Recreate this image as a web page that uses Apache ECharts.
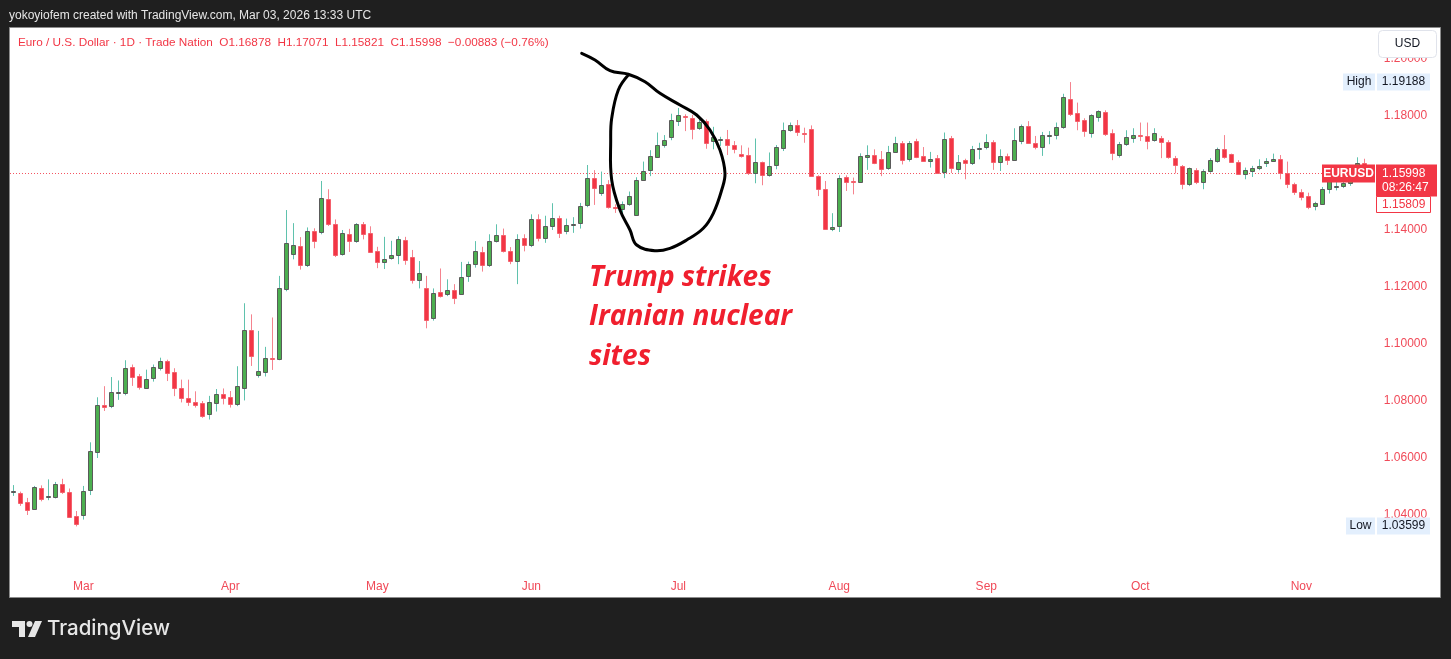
<!DOCTYPE html>
<html>
<head>
<meta charset="utf-8">
<script src="https://cdn.jsdelivr.net/npm/echarts@6/dist/echarts.min.js"></script>
<style>
html,body{margin:0;padding:0;background:#1f1f1f;}
#c{width:1451px;height:659px;}
</style>
</head>
<body>
<div id="c"></div>
<script>
// Daily EUR/USD candles, Feb 17 – Nov 14, 2025
const dates = [
 '2025-02-17','2025-02-18','2025-02-19','2025-02-20','2025-02-21','2025-02-24','2025-02-25','2025-02-26','2025-02-27','2025-02-28',
 '2025-03-03','2025-03-04','2025-03-05','2025-03-06','2025-03-07','2025-03-10','2025-03-11','2025-03-12','2025-03-13','2025-03-14','2025-03-17','2025-03-18','2025-03-19','2025-03-20','2025-03-21','2025-03-24','2025-03-25','2025-03-26','2025-03-27','2025-03-28','2025-03-31',
 '2025-04-01','2025-04-02','2025-04-03','2025-04-04','2025-04-07','2025-04-08','2025-04-09','2025-04-10','2025-04-11','2025-04-14','2025-04-15','2025-04-16','2025-04-17','2025-04-21','2025-04-22','2025-04-23','2025-04-24','2025-04-25','2025-04-28','2025-04-29','2025-04-30',
 '2025-05-01','2025-05-02','2025-05-05','2025-05-06','2025-05-07','2025-05-08','2025-05-09','2025-05-12','2025-05-13','2025-05-14','2025-05-15','2025-05-16','2025-05-19','2025-05-20','2025-05-21','2025-05-22','2025-05-23','2025-05-26','2025-05-27','2025-05-28','2025-05-29','2025-05-30',
 '2025-06-02','2025-06-03','2025-06-04','2025-06-05','2025-06-06','2025-06-09','2025-06-10','2025-06-11','2025-06-12','2025-06-13','2025-06-16','2025-06-17','2025-06-18','2025-06-19','2025-06-20','2025-06-23','2025-06-24','2025-06-25','2025-06-26','2025-06-27','2025-06-30',
 '2025-07-01','2025-07-02','2025-07-03','2025-07-04','2025-07-07','2025-07-08','2025-07-09','2025-07-10','2025-07-11','2025-07-14','2025-07-15','2025-07-16','2025-07-17','2025-07-18','2025-07-21','2025-07-22','2025-07-23','2025-07-24','2025-07-25','2025-07-28','2025-07-29','2025-07-30','2025-07-31',
 '2025-08-01','2025-08-04','2025-08-05','2025-08-06','2025-08-07','2025-08-08','2025-08-11','2025-08-12','2025-08-13','2025-08-14','2025-08-15','2025-08-18','2025-08-19','2025-08-20','2025-08-21','2025-08-22','2025-08-25','2025-08-26','2025-08-27','2025-08-28','2025-08-29',
 '2025-09-01','2025-09-02','2025-09-03','2025-09-04','2025-09-05','2025-09-08','2025-09-09','2025-09-10','2025-09-11','2025-09-12','2025-09-15','2025-09-16','2025-09-17','2025-09-18','2025-09-19','2025-09-22','2025-09-23','2025-09-24','2025-09-25','2025-09-26','2025-09-29','2025-09-30',
 '2025-10-01','2025-10-02','2025-10-03','2025-10-06','2025-10-07','2025-10-08','2025-10-09','2025-10-10','2025-10-13','2025-10-14','2025-10-15','2025-10-16','2025-10-17','2025-10-20','2025-10-21','2025-10-22','2025-10-23','2025-10-24','2025-10-27','2025-10-28','2025-10-29','2025-10-30','2025-10-31',
 '2025-11-03','2025-11-04','2025-11-05','2025-11-06','2025-11-07','2025-11-10','2025-11-11','2025-11-12','2025-11-13','2025-11-14'
];
const opens = [
 1.0482,1.0477,1.0444,1.0420,1.0494,1.0465,1.0463,1.0510,1.0481,1.0397,
 1.0401,1.0486,1.0620,1.0787,1.0782,1.0830,1.0828,1.0918,1.0888,1.0847,1.0880,1.0917,1.0940,1.0901,1.0847,1.0812,1.0798,1.0792,1.0753,1.0794,1.0824,
 1.0814,1.0789,1.0844,1.1048,1.0891,1.0903,1.0952,1.0947,1.1192,1.1315,1.1344,1.1278,1.1395,1.1392,1.1509,1.1420,1.1317,1.1385,1.1362,1.1420,1.1388,
 1.1327,1.1289,1.1301,1.1312,1.1364,1.1305,1.1224,1.1195,1.1090,1.1184,1.1177,1.1189,1.1177,1.1237,1.1280,1.1324,1.1277,1.1363,1.1381,1.1326,1.1291,1.1371,
 1.1347,1.1437,1.1371,1.1414,1.1441,1.1396,1.1420,1.1426,1.1486,1.1582,1.1529,1.1563,1.1482,1.1475,1.1491,1.1453,1.1576,1.1610,1.1656,1.1697,1.1726,
 1.1782,1.1800,1.1794,1.1759,1.1782,1.1711,1.1717,1.1718,1.1697,1.1668,1.1663,1.1599,1.1637,1.1592,1.1628,1.1686,1.1751,1.1768,1.1740,1.1753,1.1589,1.1543,1.1403,
 1.1414,1.1587,1.1571,1.1570,1.1656,1.1663,1.1648,1.1616,1.1675,1.1705,1.1648,1.1712,1.1660,1.1642,1.1652,1.1603,1.1722,1.1614,1.1645,1.1636,1.1684,
 1.1691,1.1710,1.1638,1.1658,1.1646,1.1712,1.1765,1.1706,1.1691,1.1733,1.1733,1.1762,1.1861,1.1810,1.1786,1.1742,1.1798,1.1815,1.1740,1.1663,1.1702,1.1722,
 1.1733,1.1731,1.1715,1.1724,1.1710,1.1652,1.1625,1.1561,1.1610,1.1570,1.1607,1.1642,1.1684,1.1666,1.1640,1.1598,1.1607,1.1616,1.1634,1.1642,1.1648,1.1601,1.1563,
 1.1532,1.1520,1.1484,1.1491,1.1543,1.1554,1.1554,1.1566,1.1590,1.1635
];
const closes = [
 1.0484,1.0442,1.0418,1.0498,1.0456,1.0467,1.0508,1.0480,1.0393,1.0370,
 1.0483,1.0624,1.0786,1.0780,1.0831,1.0832,1.0915,1.0884,1.0850,1.0876,1.0921,1.0940,1.0897,1.0847,1.0810,1.0797,1.0787,1.0746,1.0797,1.0826,1.0811,
 1.0789,1.0851,1.1048,1.0957,1.0905,1.0952,1.0948,1.1195,1.1356,1.1348,1.1278,1.1395,1.1363,1.1511,1.1420,1.1312,1.1388,1.1362,1.1420,1.1385,1.1324,
 1.1289,1.1298,1.1311,1.1367,1.1293,1.1224,1.1249,1.1083,1.1180,1.1169,1.1189,1.1161,1.1235,1.1280,1.1326,1.1276,1.1361,1.1382,1.1326,1.1291,1.1367,1.1346,
 1.1440,1.1371,1.1414,1.1441,1.1390,1.1418,1.1422,1.1484,1.1582,1.1549,1.1557,1.1479,1.1480,1.1491,1.1520,1.1576,1.1607,1.1660,1.1698,1.1716,1.1785,
 1.1804,1.1795,1.1753,1.1778,1.1706,1.1728,1.1719,1.1697,1.1685,1.1660,1.1599,1.1640,1.1593,1.1625,1.1691,1.1751,1.1768,1.1744,1.1739,1.1589,1.1545,1.1403,1.1412,
 1.1584,1.1568,1.1570,1.1658,1.1663,1.1634,1.1613,1.1672,1.1704,1.1645,1.1705,1.1656,1.1642,1.1650,1.1601,1.1718,1.1616,1.1638,1.1636,1.1684,1.1686,
 1.1710,1.1638,1.1660,1.1646,1.1715,1.1765,1.1706,1.1691,1.1733,1.1734,1.1762,1.1867,1.1808,1.1783,1.1748,1.1804,1.1816,1.1736,1.1669,1.1701,1.1728,1.1733,
 1.1729,1.1712,1.1741,1.1710,1.1656,1.1628,1.1563,1.1617,1.1567,1.1607,1.1645,1.1684,1.1655,1.1640,1.1598,1.1610,1.1617,1.1625,1.1642,1.1648,1.1601,1.1563,1.1535,
 1.1516,1.1479,1.1493,1.1545,1.1572,1.1555,1.1566,1.1590,1.1635,1.1622
];
const lows = [
 1.0467,1.0432,1.0400,1.0418,1.0448,1.0452,1.0458,1.0474,1.0390,1.0360,
 1.0384,1.0470,1.0600,1.0765,1.0775,1.0804,1.0820,1.0853,1.0840,1.0845,1.0868,1.0907,1.0870,1.0817,1.0795,1.0783,1.0777,1.0741,1.0735,1.0763,1.0788,
 1.0777,1.0782,1.0802,1.0923,1.0882,1.0886,1.0909,1.0943,1.1185,1.1297,1.1261,1.1270,1.1336,1.1385,1.1414,1.1305,1.1310,1.1323,1.1355,1.1367,1.1323,
 1.1266,1.1263,1.1296,1.1280,1.1278,1.1212,1.1195,1.1055,1.1082,1.1163,1.1168,1.1140,1.1172,1.1218,1.1268,1.1254,1.1270,1.1356,1.1321,1.1280,1.1210,1.1325,
 1.1340,1.1360,1.1355,1.1400,1.1372,1.1385,1.1390,1.1405,1.1480,1.1488,1.1520,1.1475,1.1460,1.1445,1.1485,1.1450,1.1572,1.1589,1.1654,1.1689,1.1715,
 1.1765,1.1747,1.1718,1.1751,1.1685,1.1683,1.1695,1.1663,1.1669,1.1654,1.1593,1.1564,1.1557,1.1587,1.1613,1.1677,1.1745,1.1730,1.1706,1.1587,1.1519,1.1402,1.1396,
 1.1393,1.1537,1.1525,1.1566,1.1611,1.1631,1.1589,1.1611,1.1672,1.1630,1.1640,1.1652,1.1640,1.1619,1.1601,1.1582,1.1600,1.1601,1.1578,1.1628,1.1648,
 1.1683,1.1611,1.1607,1.1628,1.1646,1.1701,1.1703,1.1683,1.1660,1.1701,1.1718,1.1755,1.1800,1.1750,1.1727,1.1724,1.1780,1.1730,1.1645,1.1654,1.1695,1.1706,
 1.1712,1.1683,1.1710,1.1652,1.1650,1.1599,1.1543,1.1554,1.1561,1.1543,1.1601,1.1636,1.1650,1.1636,1.1595,1.1578,1.1586,1.1610,1.1621,1.1640,1.1578,1.1547,1.1523,
 1.1504,1.1473,1.1469,1.1488,1.1528,1.1539,1.1547,1.1555,1.1580,1.1590
];
const highs = [
 1.0505,1.0482,1.0460,1.0502,1.0504,1.0525,1.0516,1.0527,1.0493,1.0414,
 1.0502,1.0655,1.0813,1.0852,1.0884,1.0872,1.0943,1.0928,1.0895,1.0910,1.0928,1.0952,1.0945,1.0915,1.0875,1.0875,1.0834,1.0800,1.0818,1.0842,1.0844,
 1.0835,1.0922,1.1143,1.1104,1.1046,1.0990,1.1093,1.1239,1.1470,1.1424,1.1375,1.1409,1.1406,1.1572,1.1543,1.1437,1.1400,1.1404,1.1424,1.1428,1.1413,
 1.1341,1.1376,1.1362,1.1378,1.1376,1.1330,1.1291,1.1239,1.1195,1.1265,1.1227,1.1210,1.1288,1.1289,1.1361,1.1341,1.1385,1.1420,1.1405,1.1340,1.1385,1.1385,
 1.1455,1.1455,1.1450,1.1494,1.1450,1.1440,1.1445,1.1495,1.1628,1.1610,1.1605,1.1575,1.1490,1.1500,1.1535,1.1585,1.1640,1.1680,1.1742,1.1733,1.1808,
 1.1828,1.1806,1.1804,1.1788,1.1788,1.1762,1.1727,1.1751,1.1712,1.1697,1.1689,1.1721,1.1640,1.1672,1.1698,1.1777,1.1777,1.1786,1.1759,1.1767,1.1592,1.1572,1.1459,
 1.1592,1.1592,1.1584,1.1669,1.1697,1.1683,1.1677,1.1695,1.1727,1.1712,1.1712,1.1720,1.1691,1.1674,1.1663,1.1742,1.1730,1.1663,1.1650,1.1695,1.1706,
 1.1736,1.1715,1.1683,1.1668,1.1757,1.1770,1.1782,1.1730,1.1744,1.1747,1.1777,1.1878,1.1919,1.1847,1.1792,1.1806,1.1820,1.1820,1.1753,1.1709,1.1750,1.1757,
 1.1777,1.1777,1.1757,1.1730,1.1715,1.1660,1.1628,1.1619,1.1617,1.1613,1.1652,1.1689,1.1733,1.1668,1.1645,1.1619,1.1625,1.1648,1.1652,1.1668,1.1663,1.1640,1.1566,
 1.1543,1.1531,1.1499,1.1551,1.1595,1.1572,1.1578,1.1600,1.1655,1.1650
];
const monthNames = ['Jan','Feb','Mar','Apr','May','Jun','Jul','Aug','Sep','Oct','Nov','Dec'];
const lastPrice = 1.15998;
const rangeHigh = 1.19188;
const rangeLow = 1.03599;
const bidPrice = 1.15809;
const legendText = 'Euro / U.S. Dollar · 1D · Trade Nation  O1.16878  H1.17071  L1.15821  C1.15998  −0.00883 (−0.76%)';
const headerText = 'yokoyiofem created with TradingView.com, Mar 03, 2026 13:33 UTC';
const noteLines = ['Trump strikes', 'Iranian nuclear', 'sites'];

const UP_BODY = '#4caf50', UP_BORDER = '#5a5a5a', UP_WICK = '#5fc2ad';
const DN_BODY = '#f23645', DN_BORDER = '#f4606c', DN_WICK = '#f5838e';
const RED_TXT = '#f04a58';
const FONT = "'Liberation Sans', Arial, sans-serif";

const candleData = dates.map((d, i) => [i, opens[i], closes[i], lows[i], highs[i]]);

const chart = echarts.init(document.getElementById('c'), null, {renderer: 'canvas'});

function monthStart(idx) {
  if (idx === 0) return false;
  return dates[idx].slice(5, 7) !== dates[idx - 1].slice(5, 7);
}

chart.setOption({
  animation: false,
  backgroundColor: '#1f1f1f',
  grid: {left: 9.8, top: 31, width: 1358, height: 544, containLabel: false},
  xAxis: {
    type: 'category', data: dates, boundaryGap: true,
    axisLine: {show: false}, axisTick: {show: false}, splitLine: {show: false},
    axisLabel: {
      interval: (idx) => monthStart(idx),
      formatter: (v) => monthNames[parseInt(v.slice(5, 7), 10) - 1],
      color: RED_TXT, fontSize: 12, margin: 6, fontFamily: FONT
    }
  },
  yAxis: {
    type: 'value', position: 'right', scale: true,
    min: 1.01895, max: 1.20982, splitNumber: 10,
    axisLine: {show: false}, axisTick: {show: false}, splitLine: {show: false},
    axisLabel: {
      showMinLabel: false, showMaxLabel: false,
      color: RED_TXT, fontSize: 12, margin: 16, fontFamily: FONT,
      formatter: (v) => (v < 1.03 ? '' : v.toFixed(5))
    }
  },
  series: [{
    type: 'custom',
    data: candleData,
    encode: {x: 0, y: [1, 2, 3, 4]},
    clip: true,
    renderItem: function (params, api) {
      const i = api.value(0), o = api.value(1), c = api.value(2), l = api.value(3), h = api.value(4);
      const pO = api.coord([i, o]), pC = api.coord([i, c]);
      const pL = api.coord([i, l]), pH = api.coord([i, h]);
      const up = c >= o;
      const cx = Math.round(pO[0]);
      const top = Math.round(Math.min(pO[1], pC[1]));
      const bot = Math.round(Math.max(pO[1], pC[1]));
      const hgt = Math.max(bot - top, 1);
      return {
        type: 'group',
        children: [
          {type: 'line', shape: {x1: cx + 0.5, y1: pH[1], x2: cx + 0.5, y2: pL[1]},
           style: {stroke: up ? UP_WICK : DN_WICK, lineWidth: 1}},
          {type: 'rect', shape: {x: cx - 1.5, y: top + 0.5, width: 4, height: hgt},
           style: {fill: up ? UP_BODY : DN_BODY, stroke: up ? UP_BORDER : DN_BORDER, lineWidth: 1}}
        ]
      };
    },
    z: 5
  }],
  graphic: [
    {type: 'rect', z: -10, shape: {x: 9.5, y: 27.5, width: 1431, height: 570},
     style: {fill: '#ffffff', stroke: '#8c8c8c', lineWidth: 1}}
  ]
});

const yOf = (v) => chart.convertToPixel({yAxisIndex: 0}, v);
const yLast = Math.round(yOf(lastPrice));
const yHi = Math.round(yOf(rangeHigh));
const yLo = Math.round(yOf(rangeLow));

function tagPair(label, value, y, leftX) {
  return [
    {type: 'rect', z: 100, shape: {x: leftX, y: y - 8.5, width: 1375 - leftX, height: 17},
     style: {fill: '#e3effd'}},
    {type: 'text', z: 101, x: (leftX + 1375) / 2, y: y,
     style: {text: label, fill: '#131722', font: '12px ' + FONT, align: 'center', verticalAlign: 'middle'}},
    {type: 'rect', z: 100, shape: {x: 1377, y: y - 8.5, width: 53, height: 17},
     style: {fill: '#e3effd'}},
    {type: 'text', z: 101, x: 1403.5, y: y,
     style: {text: value, fill: '#131722', font: '12px ' + FONT, align: 'center', verticalAlign: 'middle'}}
  ];
}

const circlePts = [
  [581.7,53.3],[595,60],[610,70.7],[628.3,74.3],[645,81.7],[660,93.3],[680,105],[696.7,115],
  [710,130],[720,150],[725,173.3],[721.7,190],[713.3,213.3],[703.3,228.3],[686.7,240],[670,248.3],
  [655,250.7],[636.7,245],[630,230],[620,210],[611.7,180],[610.7,140],[611.7,118.3],[618.3,90],[628.3,75]
];

const overlay = [
  {type: 'rect', z: -10, shape: {x: 9.5, y: 27.5, width: 1431, height: 570},
   style: {fill: '#ffffff', stroke: '#8c8c8c', lineWidth: 1}},
  // last price dotted line
  {type: 'line', z: 1, shape: {x1: 10, y1: yLast + 0.5, x2: 1375, y2: yLast + 0.5},
   style: {stroke: '#f23645', lineWidth: 1, lineDash: [1, 2], opacity: 0.85}},
  {type: 'text', z: 100, x: 9, y: 16,
   style: {text: headerText, fill: '#e6e6e6', font: '12px ' + FONT, verticalAlign: 'middle'}},
  {type: 'text', z: 100, x: 18, y: 43,
   style: {text: legendText, fill: '#f23645', font: '11.75px ' + FONT, verticalAlign: 'middle'}},
  // USD box
  {type: 'rect', z: 100, shape: {x: 1378.5, y: 30.5, width: 58, height: 27, r: 4},
   style: {fill: '#ffffff', stroke: '#e0e3eb', lineWidth: 1}},
  {type: 'text', z: 101, x: 1407.5, y: 44,
   style: {text: 'USD', fill: '#131722', font: '12px ' + FONT, align: 'center', verticalAlign: 'middle'}},
  ...tagPair('High', rangeHigh.toFixed(5), yHi, 1343),
  ...tagPair('Low', rangeLow.toFixed(5), yLo, 1346),
  // last price tags
  {type: 'rect', z: 100, shape: {x: 1322, y: yLast - 8.5, width: 53, height: 18},
   style: {fill: '#f23645'}},
  {type: 'text', z: 101, x: 1348.5, y: yLast + 0.5,
   style: {text: 'EURUSD', fill: '#ffffff', font: 'bold 12px ' + FONT, align: 'center', verticalAlign: 'middle'}},
  {type: 'rect', z: 100, shape: {x: 1376, y: yLast - 8.5, width: 61, height: 32},
   style: {fill: '#f23645'}},
  {type: 'text', z: 101, x: 1382, y: yLast + 0.5,
   style: {text: lastPrice.toFixed(5), fill: '#ffffff', font: '12px ' + FONT, verticalAlign: 'middle'}},
  {type: 'text', z: 101, x: 1382, y: yLast + 15,
   style: {text: '08:26:47', fill: '#ffffff', font: '12px ' + FONT, verticalAlign: 'middle'}},
  {type: 'rect', z: 100, shape: {x: 1376.5, y: yLast + 23.5, width: 54, height: 16},
   style: {fill: '#ffffff', stroke: '#f23645', lineWidth: 1}},
  {type: 'text', z: 101, x: 1382, y: yLast + 31.5,
   style: {text: bidPrice.toFixed(5), fill: '#f23645', font: '12px ' + FONT, verticalAlign: 'middle'}},
  // hand-drawn circle
  {type: 'polyline', z: 90, shape: {points: circlePts, smooth: 0.4},
   style: {stroke: '#000000', lineWidth: 3, fill: null, lineJoin: 'round', lineCap: 'round'}},
  // annotation text
  ...noteLines.map((t, k) => ({
    type: 'text', z: 95, x: 589, y: 278 + k * 39.5,
    style: {text: t, fill: '#f01f2e', font: 'italic bold 28px "Open Sans", sans-serif', verticalAlign: 'middle'}
  })),
  // TradingView logo
  {type: 'polygon', z: 100, shape: {points: [[12,621],[25,621],[25,637],[19,637],[19,627],[12,627]]},
   style: {fill: '#e6e6e6'}},
  {type: 'circle', z: 100, shape: {cx: 29.5, cy: 624, r: 3}, style: {fill: '#e6e6e6'}},
  {type: 'polygon', z: 100, shape: {points: [[35,621],[42,621],[35,637],[28,637]]},
   style: {fill: '#e6e6e6'}},
  {type: 'text', z: 100, x: 47, y: 629,
   style: {text: 'TradingView', fill: '#e6e6e6', font: '500 20.5px Inter, sans-serif', verticalAlign: 'middle'}}
];

chart.setOption({graphic: overlay}, {replaceMerge: ['graphic']});
</script>
</body>
</html>
